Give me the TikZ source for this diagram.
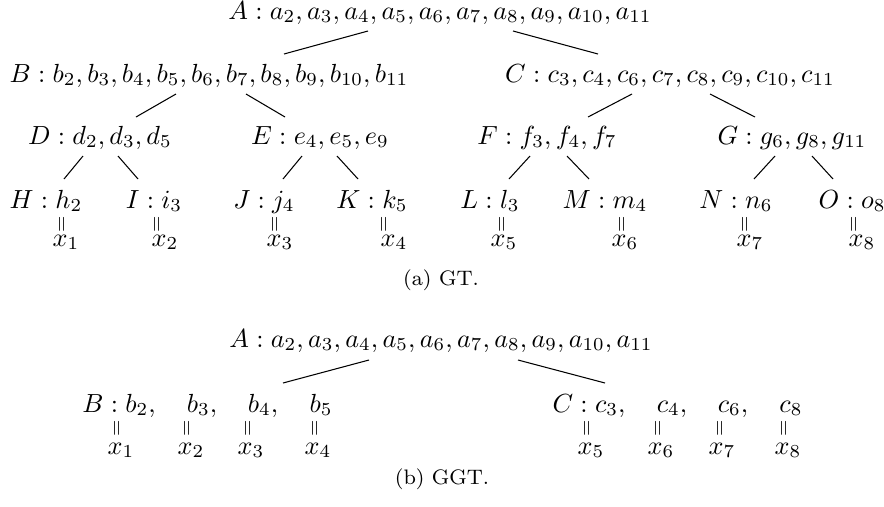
\documentclass[tikz,border=0pt]{standalone}
\usepackage{amsmath,amssymb}
\usepackage{graphicx}
\usepackage{tikz}

\newcommand{\rotequal}{\rotatebox{90}{\scalebox{0.8}{$=$}}}

\begin{document}
\begin{tikzpicture}[x=0.3817pt, y=-0.3817pt, every node/.style={inner sep=0pt,
  anchor=base}, eq/.style={anchor=center}, captxt/.style={font=\footnotesize}]
  \useasboundingbox (0,0) rectangle (884,506);
  % (a) GT
  \node (A) at (440,19) {$A : a_2, a_3, a_4, a_5, a_6, a_7, a_8, a_9, a_{10}, a_{11}$};
  \node (B) at (209,82) {$B : b_2, b_3, b_4, b_5, b_6, b_7, b_8, b_9, b_{10}, b_{11}$};
  \node (C) at (670,82) {$C : c_3, c_4, c_6, c_7, c_8, c_9, c_{10}, c_{11}$};
  \node (D) at (100,144) {$D : d_2, d_3, d_5$};
  \node (E) at (320,144) {$E : e_4, e_5, e_9$};
  \node (F) at (547,144) {$F : f_3, f_4, f_7$};
  \node (G) at (792,144) {$G : g_6, g_8, g_{11}$};
  \node (H) at (46,208)  {$H : h_2$};
  \node (I) at (154,208) {$I : i_3$};
  \node (J) at (264,208) {$J : j_4$};
  \node (K) at (372,208) {$K : k_5$};
  \node (L) at (490,208) {$L : l_3$};
  \node (M) at (605,208) {$M : m_4$};
  \node (N) at (736,208) {$N : n_6$};
  \node (O) at (852,208) {$O : o_8$};
  \foreach \i/\ex/\xx in {1/63/66, 2/158/165, 3/276/280, 4/385/394,
                          5/503/504, 6/623/625, 7/746/750, 8/855/862} {
    \node[eq] (e\i) at (\ex,224) {\rotequal};
    \node (x\i) at (\xx,246) {$x_\i$};
  }
  \draw ([shift={(-72,12)}]A.base) -- ([shift={(75,-28)}]B.base);
  \draw ([shift={(73,12)}]A.base) -- ([shift={(-72,-28)}]C.base);
  \draw ([shift={(-33,12)}]B.base) -- ([shift={(36,-27)}]D.base);
  \draw ([shift={(37,12)}]B.base) -- ([shift={(-35,-27)}]E.base);
  \draw ([shift={(-38,12)}]C.base) -- ([shift={(41,-27)}]F.base);
  \draw ([shift={(40,12)}]C.base) -- ([shift={(-37,-27)}]G.base);
  \draw ([shift={(-17,12)}]D.base) -- ([shift={(18,-29)}]H.base);
  \draw ([shift={(18,12)}]D.base) -- ([shift={(-16,-29)}]I.base);
  \draw ([shift={(-18,12)}]E.base) -- ([shift={(19,-29)}]J.base);
  \draw ([shift={(17,12)}]E.base) -- ([shift={(-14,-29)}]K.base);
  \draw ([shift={(-17,12)}]F.base) -- ([shift={(19,-29)}]L.base);
  \draw ([shift={(20,12)}]F.base) -- ([shift={(-16,-29)}]M.base);
  \draw ([shift={(-17,12)}]G.base) -- ([shift={(18,-29)}]N.base);
  \draw ([shift={(20,12)}]G.base) -- ([shift={(-19,-29)}]O.base);
  \node[captxt] (capa) at (441,285) {(a) GT.};

  % (b) GGT
  \node (A2) at (441,347) {$A : a_2, a_3, a_4, a_5, a_6, a_7, a_8, a_9, a_{10}, a_{11}$};
  \node (gB)  at (119,412) {$B : b_2,$};
  \node (gb3) at (202,412) {$b_3,$};
  \node (gb4) at (263,412) {$b_4,$};
  \node (gb5) at (321,412) {$b_5$};
  \node (gC)  at (589,412) {$C : c_3,$};
  \node (gc4) at (672,412) {$c_4,$};
  \node (gc6) at (733,412) {$c_6,$};
  \node (gc8) at (791,412) {$c_8$};
  \foreach \i/\ex/\xx in {1/118/121, 2/188/191, 3/249/251, 4/316/318,
                          5/588/591, 6/659/661, 7/721/722, 8/785/788} {
    \node[eq] (ge\i) at (\ex,428) {\rotequal};
    \node (gx\i) at (\xx,454) {$x_\i$};
  }
  \draw ([shift={(-72,13)}]A2.base) -- ([shift={(20,-29)}]gb4.base);
  \draw ([shift={(77,13)}]A2.base) -- ([shift={(16,-29)}]gC.base);
  \node[captxt] (capb) at (442,484) {(b) GGT.};
\end{tikzpicture}
\end{document}
